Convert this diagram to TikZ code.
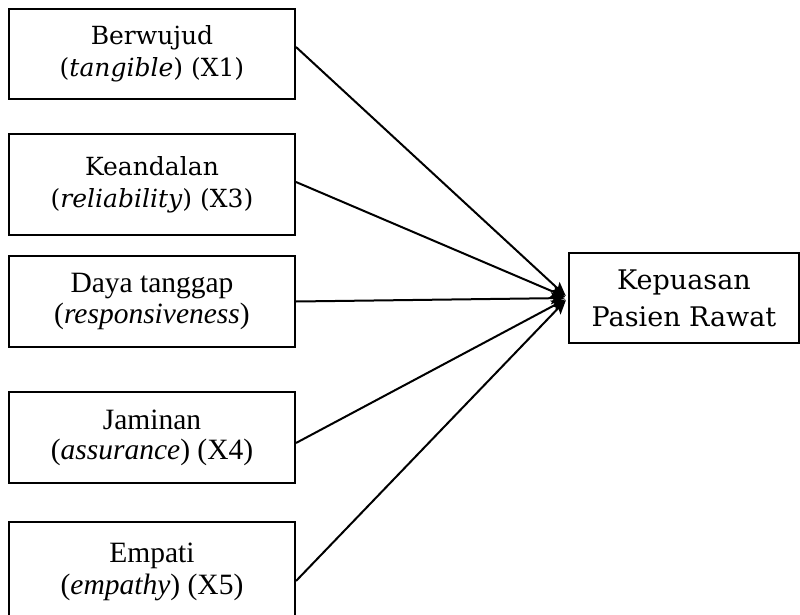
\documentclass[tikz,border=0pt]{standalone}
\usepackage{fontspec}
\setmainfont{Liberation Serif}
\newfontfamily\cambriafont{DejaVu Serif}
\usepackage{tikz}
\usetikzlibrary{arrows.meta,positioning}

\begin{document}
\begin{tikzpicture}[x=1pt,y=-1pt,node distance=33pt]
  \tikzstyle{dim}=[rectangle,draw,line width=2pt,minimum width=286pt,inner sep=0pt,align=center]
  \tikzstyle{goalbox}=[rectangle,draw,line width=2pt,minimum width=230pt,minimum height=90pt,inner sep=0pt,align=center]
  \tikzstyle{link}=[line width=2pt,-{Stealth[length=14pt,width=12pt,inset=3pt]},shorten >=3pt]

  \useasboundingbox (0,0) rectangle (800,615);

  \node[dim,minimum height=90pt,font=\cambriafont\fontsize{25}{32}\selectfont] (tangible) at (152,54) {Berwujud\\(\textit{tangible}) (X1)};
  \node[dim,minimum height=101pt,font=\cambriafont\fontsize{25}{32}\selectfont,below=33pt of tangible] (reliab) {Keandalan\\(\textit{reliability}) (X3)};
  \node[dim,minimum height=91pt,font=\fontsize{29.5}{31}\selectfont,below=19pt of reliab] (respon) {Daya tanggap\\(\textit{responsiveness})};
  \node[dim,minimum height=91pt,font=\fontsize{29.5}{30}\selectfont,below=43pt of respon] (assur) {Jaminan\\(\textit{assurance}) (X4)};
  \node[dim,minimum height=100pt,font=\fontsize{29.5}{32}\selectfont,below=37pt of assur] (empat) {Empati\\(\textit{empathy}) (X5)};

  \node[goalbox,font=\cambriafont\fontsize{27}{37}\selectfont] (kepuasan) at (684,298) {Kepuasan\\Pasien Rawat};

  \draw[link] ([yshift=7pt]tangible.east) -- (kepuasan.west);
  \draw[link] ([yshift=2.5pt]reliab.east) -- (kepuasan.west);
  \draw[link] (respon.east) -- (kepuasan.west);
  \draw[link] ([yshift=-5.5pt]assur.east) -- (kepuasan.west);
  \draw[link] ([yshift=-9pt]empat.east) -- (kepuasan.west);
\end{tikzpicture}
\end{document}
